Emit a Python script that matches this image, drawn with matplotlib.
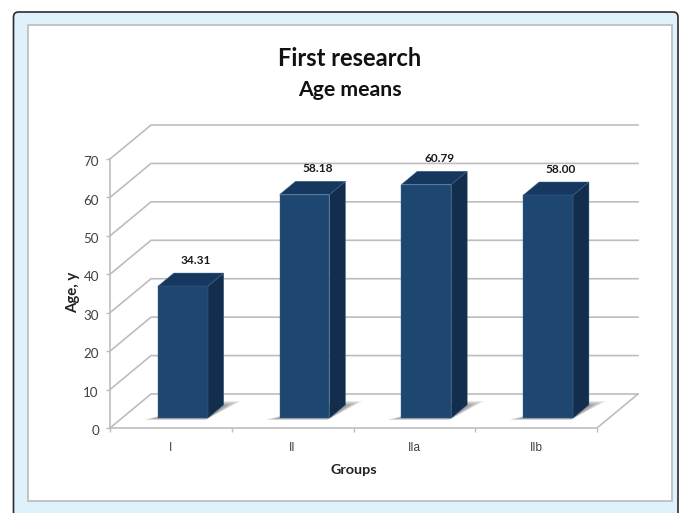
import matplotlib
matplotlib.use("Agg")
import matplotlib.pyplot as plt
from matplotlib.patches import FancyBboxPatch, Polygon, Rectangle
from matplotlib.transforms import ScaledTranslation

plt.rcParams["font.family"] = ["Lato", "DejaVu Sans"]

# Chart values
groups = ["I", "II", "IIa", "IIb"]
age_means = [34.31, 58.18, 60.79, 58.00]
y_ticks = [0, 10, 20, 30, 40, 50, 60, 70]

W, H = 681, 513
BAR_WIDTH = 0.41

# Depth of the box expressed in data units (full wall offset)
DEPTH_X = 41 / 121.75
DEPTH_Y = 34 / 3.843
BAR_NEAR = 0.29
BAR_FAR = 0.68

GRID = "#bdbdbd"
FRONT = "#1d4670"
SIDE = "#122e4c"
TOP = "#16385e"
EDGE = "#3f668e"


def project(x, y, depth):
    """Shift a point of the front plane back into the box."""
    return (x + depth * DEPTH_X, y + depth * DEPTH_Y)


fig = plt.figure(figsize=(W / 100, H / 100), dpi=100, facecolor="white")

# Page background: card with dark outline and white panel
bg = fig.add_axes([0, 0, 1, 1], zorder=0)
bg.set_xlim(0, W)
bg.set_ylim(H, 0)
bg.axis("off")
bg.add_patch(FancyBboxPatch((13.5, 12), 664.5, 560, boxstyle="round,pad=0,rounding_size=5",
                            facecolor="#dff1fb", edgecolor="#2b2b30", linewidth=1.2))
bg.add_patch(Rectangle((28, 25), 643.5, 475.5, facecolor="white", edgecolor="#bcc0c2", linewidth=1.3))

# Axes box equals the front plane of the 3D chart
ax = fig.add_axes([110 / W, 1 - 428 / H, 487 / W, 269 / H], zorder=1)
ax.set_xlim(-0.5, 3.5)
ax.set_ylim(0, 70)
ax.patch.set_alpha(0)
for side in ["top", "right", "bottom"]:
    ax.spines[side].set_visible(False)
ax.spines["left"].set_color(GRID)
ax.spines["left"].set_linewidth(1.2)

# Back wall gridlines with their side wall segments
x_l, x_r = ax.get_xlim()
for tick in y_ticks:
    back_l = project(x_l, tick, 1)
    back_r = project(x_r, tick, 1)
    ax.plot([x_l, back_l[0], back_r[0]], [tick, back_l[1], back_r[1]],
            color=GRID, lw=1.2, clip_on=False, zorder=1, solid_joinstyle="miter")

# Floor outline
floor_r = project(x_r, 0, 1)
ax.plot([x_l, x_r, floor_r[0]], [0, 0, floor_r[1]], color=GRID, lw=1.2, clip_on=False, zorder=1)

# Bars, each with a soft floor shadow, front, side and top faces
for i, value in enumerate(age_means):
    x0 = i - BAR_WIDTH / 2
    x1 = i + BAR_WIDTH / 2

    for step in range(10):
        grow = 0.008 + 0.0105 * step
        near = BAR_NEAR - 0.006 * step
        far = BAR_FAR - 0.03 + 0.016 * step
        shadow = [project(x0 - grow, 0, near), project(x1, 0, near),
                  project(x1 + grow, 0, far), project(x1 - 0.12, 0, far)]
        ax.add_patch(Polygon(shadow, closed=True, facecolor="#5a5a5a", alpha=0.09,
                             edgecolor="none", zorder=2, clip_on=False))

    a = project(x0, 0, BAR_NEAR)
    b = project(x1, 0, BAR_NEAR)
    c = project(x1, value, BAR_NEAR)
    d = project(x0, value, BAR_NEAR)
    e = project(x1, 0, BAR_FAR)
    f = project(x1, value, BAR_FAR)
    g = project(x0, value, BAR_FAR)

    ax.add_patch(Polygon([b, e, f, c], facecolor=SIDE, edgecolor=EDGE, lw=0.3, zorder=3, clip_on=False))
    ax.add_patch(Polygon([d, c, f, g], facecolor=TOP, edgecolor=EDGE, lw=0.3, zorder=3, clip_on=False))
    ax.add_patch(Polygon([a, b, c, d], facecolor=FRONT, edgecolor=EDGE, lw=0.3, zorder=4, clip_on=False))

    ax.annotate(f"{value:.2f}", xy=(f[0] - BAR_WIDTH / 2, f[1]), xytext=(-3, 12.5), textcoords="offset pixels",
                ha="center", va="center", fontsize=8.6, fontweight="bold", color="#1a1a1a", zorder=5)

# Ticks
ax.set_yticks(y_ticks)
ax.set_xticks([i - 0.5 for i in range(len(groups) + 1)])
ax.set_xticklabels([])
ax.tick_params(axis="y", length=3, width=1, color=GRID, labelcolor="#404040", labelsize=9.6, pad=5)
ax.tick_params(axis="x", length=3, width=1, color=GRID)
ax.set_xticks(range(len(groups)), labels=groups, minor=True)
ax.tick_params(axis="x", which="minor", length=0, labelcolor="#404040", labelsize=8.5, pad=10)
for label in ax.get_xticklabels(minor=True):
    label.set_family("Liberation Sans")
nudge = ScaledTranslation(0, -1.5 / 72, fig.dpi_scale_trans)
for label in ax.get_yticklabels():
    label.set_transform(label.get_transform() + nudge)

# Titles and axis names
fig.text(349.5 / W, 1 - 58 / H, "First research", ha="center", va="center",
         fontsize=17, fontweight="bold", color="#111111")
fig.text(349.5 / W, 1 - 89.5 / H, "Age means", ha="center", va="center",
         fontsize=15.3, fontweight="bold", color="#111111")
fig.text(354 / W, 1 - 470 / H, "Groups", ha="center", va="center",
         fontsize=10.4, fontweight="bold", color="#222222")
fig.text(73 / W, 1 - 292 / H, "Age, y", ha="center", va="center", rotation=90,
         fontsize=10.8, fontweight="bold", color="#222222")

fig.savefig("out.png", dpi=100, facecolor="white")
